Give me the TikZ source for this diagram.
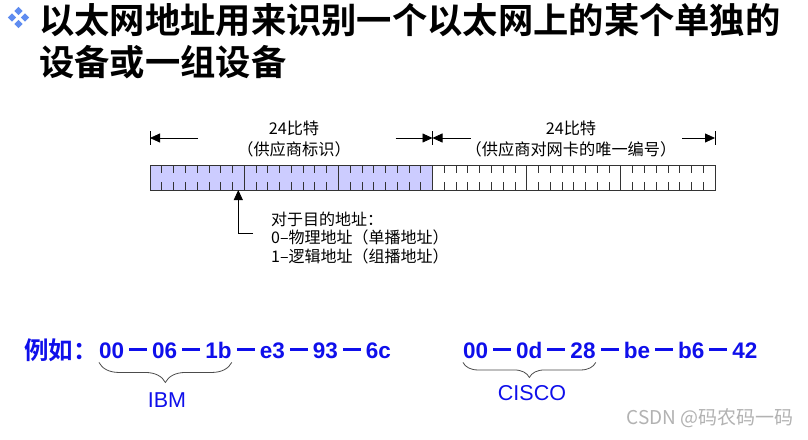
\documentclass[tikz,border=0pt]{standalone}
\usepackage{fontspec}
\setmainfont{Liberation Sans}
\newfontfamily\cjk{Noto Sans CJK SC}[BoldFont={Noto Sans CJK SC Bold}]
\usepackage{xcolor}
\usetikzlibrary{arrows.meta, positioning, decorations.pathreplacing}
\definecolor{ouifill}{RGB}{204,204,255}
\definecolor{bulletblue}{RGB}{95,140,240}
\definecolor{macblue}{RGB}{15,15,235}
\newcommand\macsep{\hspace{5pt}\rule[7.2pt]{18pt}{2.6pt}\hspace{5pt}}
\tikzstyle{bytebox} = [rectangle, draw=black!80, line width=0.8pt, minimum width=94.17pt, minimum height=25pt, inner sep=0pt, outer sep=0pt]
\tikzstyle{bittick} = [draw=black!80, line width=0.7pt]
\tikzstyle{dimarrow} = [line width=0.8pt, -{Triangle[length=10pt,width=9pt]}]
\tikzstyle{arrow} = [line width=0.8pt, -{Triangle[length=10pt,width=9pt]}]
\tikzstyle{dimtext} = [align=center, inner sep=0pt, font=\cjk\fontsize{16.2}{21}\selectfont]
\tikzstyle{note} = [align=left, inner sep=0pt, font=\cjk\fontsize{16}{18.5}\selectfont]
\tikzstyle{mac} = [text=macblue, inner sep=0pt, font=\fontsize{22.5}{26}\selectfont\bfseries]
\tikzstyle{company} = [text=macblue, inner sep=0pt, font=\fontsize{21.5}{24}\selectfont]
\tikzstyle{brace} = [decorate, draw=black!70, line width=0.8pt]

\begin{document}
\begin{tikzpicture}[x=1pt, y=-1pt]
\fill[white] (0,0) rectangle (808,439);
\useasboundingbox (0,0) rectangle (808,439);

\foreach \dx/\dy in {0/-6.5, -6.5/0, 6.5/0, 0/6.5}
  \fill[bulletblue] (18.5+\dx,17.5+\dy) +(0,-4.2) -- +(4.2,0) -- +(0,4.2) -- +(-4.2,0) -- cycle;
\node (title) [anchor=west, align=left, inner sep=0pt, font=\cjk\bfseries\fontsize{35.3}{42}\selectfont] at (39,41.5) {以太网地址用来识别一个以太网上的某个单独的\\设备或一组设备};

\node (byte1) [bytebox, fill=ouifill] at (197.08,177.5) {};
\node (byte2) [bytebox, fill=ouifill, right=0pt of byte1] {};
\node (byte3) [bytebox, fill=ouifill, right=0pt of byte2] {};
\node (byte4) [bytebox, right=0pt of byte3] {};
\node (byte5) [bytebox, right=0pt of byte4] {};
\node (byte6) [bytebox, right=0pt of byte5] {};
\foreach \n in {1,...,6}
  \foreach \k in {1,...,7} {
    \draw [bittick] ([xshift=\k*11.771pt]byte\n.north west) -- ++(0,8);
    \draw [bittick] ([xshift=\k*11.771pt]byte\n.south west) -- ++(0,-8);
  }

\coordinate (ouiL) at (150,138);
\coordinate (ouiR) at (432.5,138);
\coordinate (nicR) at (715,138);
\foreach \c in {ouiL, ouiR, nicR}
  \draw [line width=0.8pt] ([yshift=7pt]\c) -- ([yshift=-7pt]\c);
\draw [dimarrow] ([xshift=48pt]ouiL) -- (ouiL);
\draw [dimarrow] ([xshift=-37pt]ouiR) -- (ouiR);
\draw [dimarrow] ([xshift=38pt]ouiR) -- (ouiR);
\draw [dimarrow] ([xshift=-33pt]nicR) -- (nicR);
\node (ouitext) [dimtext] at (294,138.5) {24比特\\（供应商标识）};
\node (nictext) [dimtext] at (571,138.5) {24比特\\（供应商对网卡的唯一编号）};

\coordinate (igbit) at ([xshift=88.3pt]byte1.south west);
\coordinate (igtail) at (253,233);
\draw [arrow] (igtail) -| (igbit);
\node (igtext) [note, anchor=north west] at (271,211.5) {对于目的地址：\\0–物理地址（单播地址）\\1–逻辑地址（组播地址）};

\node (eg) [mac, anchor=west, font=\cjk\bfseries\fontsize{24.5}{28}\selectfont] at (24,350) {例如：};
\node (ibmoui) [mac, anchor=west] at (99,350) {00\macsep 06\macsep 1b};
\node (ibmnic) [mac, anchor=base west] at (ibmoui.base east) {\macsep e3\macsep 93\macsep 6c};
\node (cscoui) [mac, anchor=west] at (463,350) {00\macsep 0d\macsep 28};
\node (cscnic) [mac, anchor=base west] at (cscoui.base east) {\macsep be\macsep b6\macsep 42};

\draw [brace, decoration={brace, mirror, amplitude=20pt}] ([yshift=-4pt]ibmoui.south west) -- ([yshift=-4pt]ibmoui.south east);
\draw [brace, decoration={brace, mirror, amplitude=15pt}] ([yshift=-4pt]cscoui.south west) -- ([yshift=-4pt]cscoui.south east);
\node (ibm) [company] at (167,400) {IBM};
\node (cisco) [company] at (532,393) {CISCO};

\node (mark) [anchor=east, inner sep=0pt, text=black!30, font=\cjk\fontsize{19}{22}\selectfont] at (794,418) {CSDN @码农码一码};
\end{tikzpicture}
\end{document}
